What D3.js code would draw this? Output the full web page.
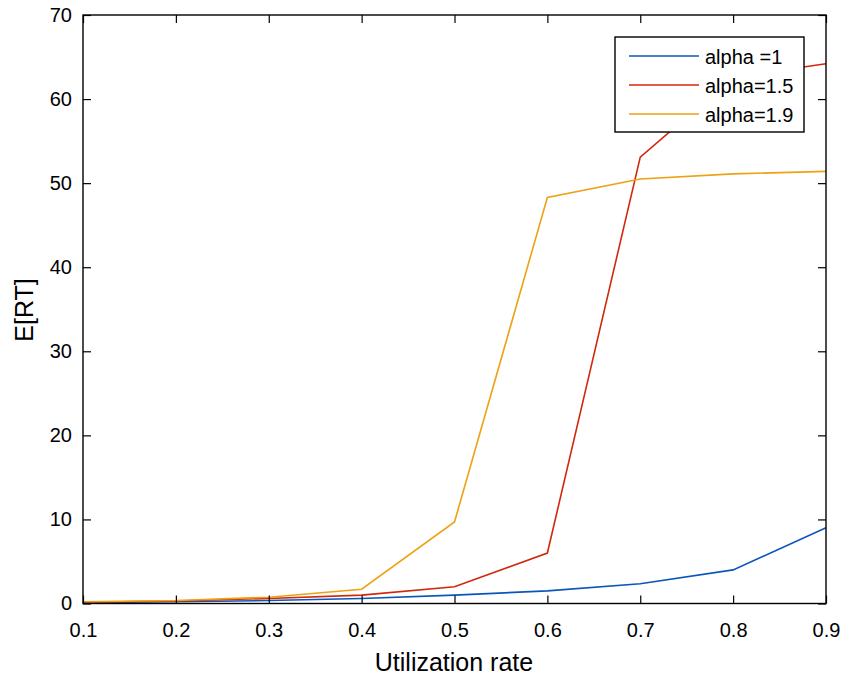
<!DOCTYPE html>
<html>
<head>
<meta charset="utf-8">
<script src="https://cdn.jsdelivr.net/npm/d3@7"></script>
<style>
  body { margin: 0; background: #fff; }
  text { font-family: "Liberation Sans", Arial, sans-serif; fill: #000; }
</style>
</head>
<body>
<script>
var utilization = [0.1, 0.2, 0.3, 0.4, 0.5, 0.6, 0.7, 0.8, 0.9];
var alpha1  = [0.1, 0.2, 0.35, 0.6, 1.0, 1.5, 2.35, 4.0, 9.0];
var alpha15 = [0.15, 0.3, 0.6, 1.0, 2.0, 6.0, 53.1, 62.6, 64.2];
var alpha19 = [0.2, 0.35, 0.75, 1.7, 9.7, 48.3, 50.5, 51.1, 51.4];
var seriesNames = ["alpha =1", "alpha=1.5", "alpha=1.9"];
var seriesColors = ["#0b56b8", "#d0280c", "#eea114"];
var xTicks = [0.1, 0.2, 0.3, 0.4, 0.5, 0.6, 0.7, 0.8, 0.9];
var yTicks = [0, 10, 20, 30, 40, 50, 60, 70];

var width = 851, height = 678;
var plotLeft = 83, plotRight = 826, plotTop = 15, plotBottom = 603.5;

var svg = d3.select("body").append("svg")
            .attr("width", width)
            .attr("height", height);

var x = d3.scaleLinear().domain([0.1, 0.9]).range([plotLeft, plotRight]);
var y = d3.scaleLinear().domain([0, 70]).range([plotBottom, plotTop]);

var allSeries = [alpha1, alpha15, alpha19];

var line = d3.line()
             .x(function(d, i) { return x(utilization[i]); })
             .y(function(d) { return y(d); });

svg.append("g").selectAll("path")
   .data(allSeries)
   .enter()
   .append("path")
   .attr("d", line)
   .attr("fill", "none")
   .attr("stroke", function(d, i) { return seriesColors[i]; })
   .attr("stroke-width", 1.6);

// axes with inward ticks on all four sides
var tickLen = 8;
svg.append("g")
   .attr("transform", "translate(0," + plotBottom + ")")
   .call(d3.axisBottom(x).tickValues(xTicks).tickSize(-tickLen).tickPadding(19)
         .tickFormat(d3.format(".1f")))
   .call(function(g) {
     g.select(".domain").remove();
     g.attr("font-size", 20).attr("font-family", null);
   });
svg.append("g")
   .attr("transform", "translate(0," + plotTop + ")")
   .call(d3.axisTop(x).tickValues(xTicks).tickSize(-tickLen).tickFormat(""))
   .call(function(g) { g.select(".domain").remove(); });
svg.append("g")
   .attr("transform", "translate(" + plotLeft + ",0)")
   .call(d3.axisLeft(y).tickValues(yTicks).tickSize(-tickLen).tickPadding(11))
   .call(function(g) {
     g.select(".domain").remove();
     g.attr("font-size", 20).attr("font-family", null);
   });
svg.append("g")
   .attr("transform", "translate(" + plotRight + ",0)")
   .call(d3.axisRight(y).tickValues(yTicks).tickSize(-tickLen).tickFormat(""))
   .call(function(g) { g.select(".domain").remove(); });

svg.selectAll(".tick line").attr("stroke", "#000").attr("stroke-width", 1.2);

svg.append("rect")
   .attr("x", plotLeft).attr("y", plotTop)
   .attr("width", plotRight - plotLeft).attr("height", plotBottom - plotTop)
   .attr("fill", "none")
   .attr("stroke", "#000")
   .attr("stroke-width", 1.4);

// axis labels
svg.append("text")
   .attr("x", 454)
   .attr("y", 671)
   .attr("text-anchor", "middle")
   .attr("font-size", 25)
   .text("Utilization rate");

svg.append("text")
   .attr("transform", "translate(33,310) rotate(-90)")
   .attr("text-anchor", "middle")
   .attr("font-size", 25)
   .text("E[RT]");

// legend
var legend = svg.append("g");
legend.append("rect")
      .attr("x", 615).attr("y", 37)
      .attr("width", 189).attr("height", 95)
      .attr("fill", "#fff")
      .attr("stroke", "#000")
      .attr("stroke-width", 1.4);

var items = legend.selectAll("g.item")
                  .data(seriesNames)
                  .enter()
                  .append("g")
                  .attr("transform", function(d, i) { return "translate(0," + (56 + i * 29) + ")"; });
items.append("line")
     .attr("x1", 629).attr("x2", 699)
     .attr("y1", 0).attr("y2", 0)
     .attr("stroke", function(d, i) { return seriesColors[i]; })
     .attr("stroke-width", 1.6);
items.append("text")
     .attr("x", 705)
     .attr("y", 7.5)
     .attr("font-size", 20)
     .text(function(d) { return d; });
</script>
</body>
</html>
